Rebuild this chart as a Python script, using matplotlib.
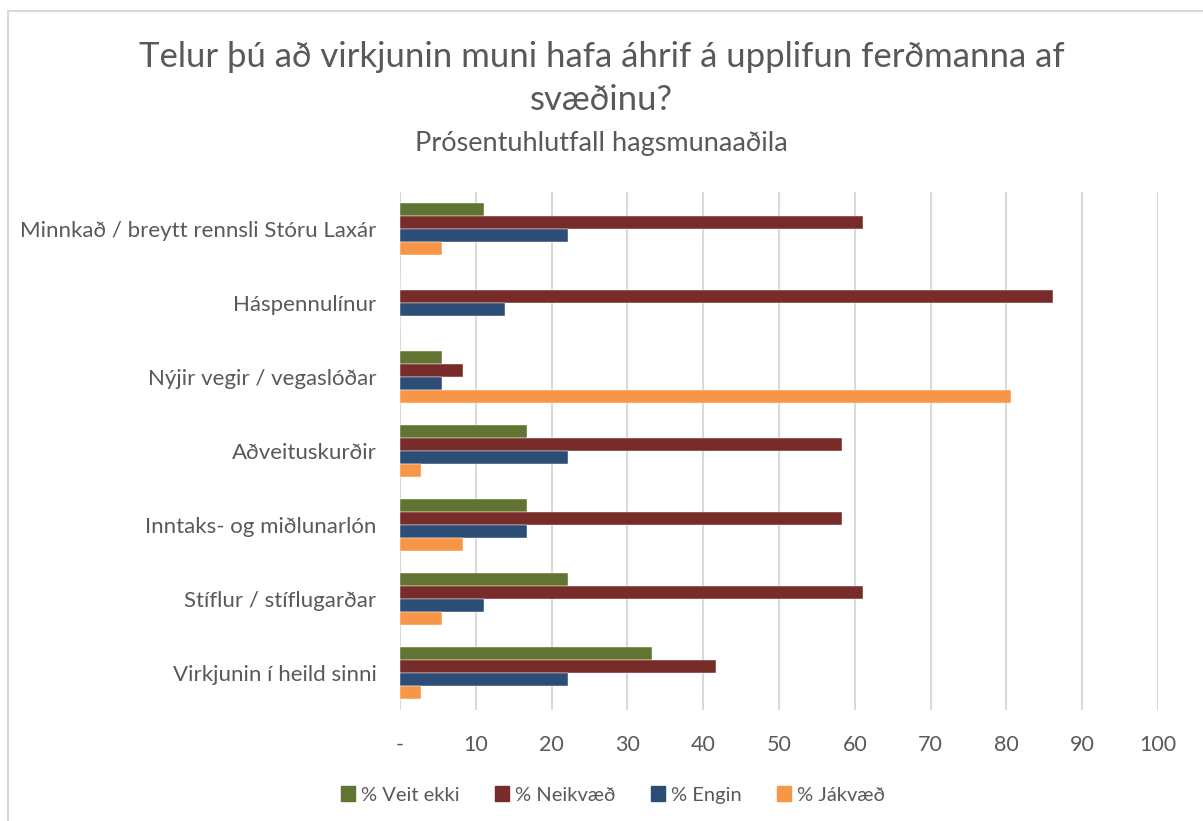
import matplotlib
matplotlib.use("Agg")
import matplotlib.pyplot as plt
from matplotlib.lines import Line2D
import numpy as np

plt.rcParams['font.family'] = ['Lato', 'DejaVu Sans']

categories = [
    "Virkjunin í heild sinni",
    "Stíflur / stíflugarðar",
    "Inntaks- og miðlunarlón",
    "Aðveituskurðir",
    "Nýjir vegir / vegaslóðar",
    "Háspennulínur",
    "Minnkað / breytt rennsli Stóru Laxár",
]
series_names = ["% Veit ekki", "% Neikvæð", "% Engin", "% Jákvæð"]
veit_ekki = [33.3, 22.2, 16.7, 16.7, 5.6, 0.0, 11.1]
neikvaed = [41.7, 61.1, 58.3, 58.3, 8.3, 86.1, 61.1]
engin = [22.2, 11.1, 16.7, 22.2, 5.6, 13.9, 22.2]
jakvaed = [2.8, 5.6, 8.3, 2.8, 80.6, 0.0, 5.6]
xticks = [0, 10, 20, 30, 40, 50, 60, 70, 80, 90, 100]
xticklabels = ["-", "10", "20", "30", "40", "50", "60", "70", "80", "90", "100"]

colors = ["#617431", "#772C2A", "#2C4D75", "#F79646"]
values = [veit_ekki, neikvaed, engin, jakvaed]

W, H = 1203, 821
fig = plt.figure(figsize=(W / 100, H / 100), dpi=100)
ax = fig.add_axes([400 / W, 1 - 710 / H, 758 / W, 518 / H])

y = np.arange(len(categories))
h = 0.176
offsets = [1.5 * h, 0.5 * h, -0.5 * h, -1.5 * h]
for vals, c, off, name in zip(values, colors, offsets, series_names):
    ax.barh(y + off, vals, height=h, color=c, label=name, zorder=3,
            edgecolor="white", linewidth=0.3)

ax.set_xlim(0, 100)
ax.set_ylim(-0.5, len(categories) - 0.5)
ax.set_xticks(xticks)
ax.set_xticklabels(xticklabels, fontsize=15.5, color="#595959")
ax.set_yticks(y)
ax.set_yticklabels(categories, fontsize=16, color="#595959")
ax.tick_params(axis="x", length=0, pad=18)
ax.tick_params(axis="y", length=0, pad=17)
ax.grid(axis="x", color="#D9D9D9", linewidth=1.5, zorder=0)
for s in ax.spines.values():
    s.set_visible(False)

fig.text(0.5, 1 - 57 / H, "Telur þú að virkjunin muni hafa áhrif á upplifun ferðmanna af",
         ha="center", va="center", fontsize=25, color="#595959")
fig.text(0.5, 1 - 100 / H, "svæðinu?", ha="center", va="center", fontsize=25, color="#595959")
fig.text(0.5, 1 - 143 / H, "Prósentuhlutfall hagsmunaaðila", ha="center", va="center",
         fontsize=19.5, color="#595959")

handles = [plt.Rectangle((0, 0), 1, 1, color=c) for c in colors]
fig.legend(handles, series_names, loc="center", bbox_to_anchor=(613 / W, 1 - 795 / H),
           ncol=4, frameon=False, fontsize=14.5, labelcolor="#595959",
           handlelength=0.7, handleheight=0.7, handletextpad=0.3, columnspacing=1.75)

# chart border (left and top visible)
fig.add_artist(Line2D([7.5 / W, 7.5 / W], [0, 1 - 11 / H], transform=fig.transFigure,
                      color="#D9D9D9", linewidth=1.5))
fig.add_artist(Line2D([7.5 / W, 1], [1 - 11 / H, 1 - 11 / H], transform=fig.transFigure,
                      color="#D9D9D9", linewidth=1.5))

fig.savefig("out.png", dpi=100)
